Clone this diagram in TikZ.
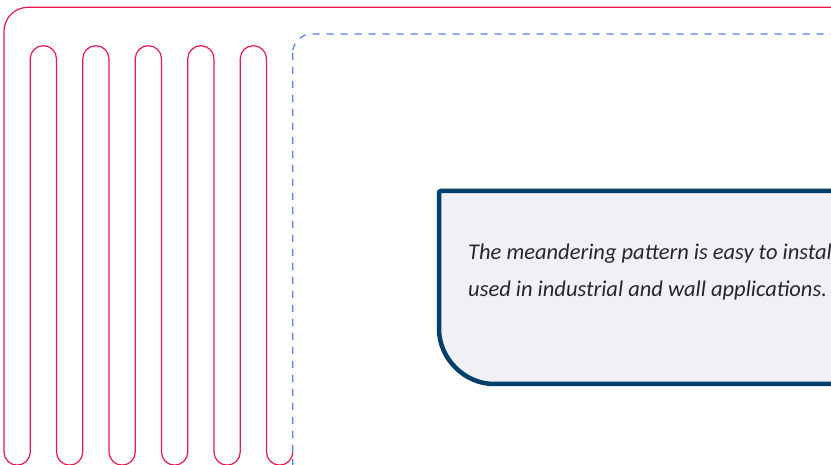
\documentclass[tikz,border=0pt]{standalone}
\usepackage{fontspec}
\usepackage{tikz}
\newfontfamily\notefont{Carlito}

\definecolor{pipered}{RGB}{232,24,76}
\definecolor{zoneblue}{RGB}{84,126,242}
\definecolor{boxnavy}{RGB}{0,62,107}
\definecolor{boxfill}{RGB}{239,241,247}
\definecolor{notegray}{RGB}{38,38,42}

\tikzset{
  pipe/.style={pipered, line width=1.2pt, line join=round},
  zone/.style={zoneblue, line width=1.2pt, dash pattern=on 7pt off 7pt, rounded corners=19pt},
  notebox/.style={boxnavy, line width=4.5pt, fill=boxfill, rounded corners=2pt},
  notetext/.style={anchor=base west, align=left, text=notegray, inner sep=0pt,
    font=\notefont\itshape\fontsize{22.5}{37}\selectfont}
}

\begin{document}
\begin{tikzpicture}[x=1pt,y=1pt]
        \useasboundingbox (0,0) rectangle (831,465);
        \clip (0,0) rectangle (831,465);

        % Draw the meandering pipe loop
        \draw[pipe] (840,457.7) -- (28,457.7)
            arc[start angle=90, end angle=180, radius=24] -- (4,13)
            \foreach \k in {1,...,5} {
                arc[start angle=180, end angle=360, radius=13.125] -- ++(0,393.2)
                arc[start angle=180, end angle=0, radius=13.125] -- ++(0,-393.2)
            }
            arc[start angle=180, end angle=360, radius=13.125];

        % Draw the dashed zone border
        \draw[zone] (292.7,431) rectangle (900,-40);

        % Draw the note box
        \filldraw[notebox] (900,274) -- (439,274) -- (439,138)
            arc[start angle=180, end angle=270, radius=57] -- (900,81);

        % Add the note
        \node[notetext] (note) at (468,168)
            {The meandering pattern is easy to install\\used in industrial and wall applications.};
\end{tikzpicture}
\end{document}
